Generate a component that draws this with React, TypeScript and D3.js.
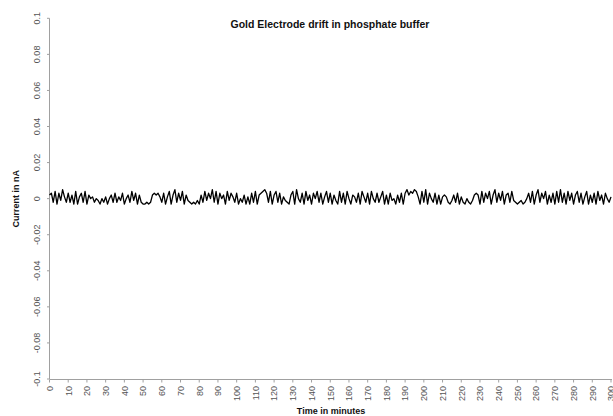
import { useEffect, useRef } from 'react'
import * as d3 from 'd3'

// current readings, one per minute, in thousandths of nA
const currentMilli = [
  2, 3, -2, 4, -3, 3, -1, 5, 1, -2,
  3, -2, 2, -3, 4, -3, 1, 3, -2, 4,
  -3, 2, 0, 1, -2, 0, -1, -3, 0, -2,
  1, -3, 0, 2, -2, 3, -2, 1, -1, 3,
  -3, 0, 2, -2, 4, -1, 3, -3, 2, -2,
  -3, -3, -2, -3, -2, 2, 3, 2, 3, 1,
  -2, 3, -3, 1, 4, -3, 2, 5, -2, 3,
  -1, 4, -3, 2, -1, -2, -3, -2, -3, -1,
  -3, 2, -2, 4, -1, 3, 0, 5, -2, 4,
  -3, 3, 0, 2, -3, 4, -1, 3, 1, -2,
  3, -3, 0, -2, 2, -3, 1, -3, 3, -2,
  4, -3, 2, 3, 4, 5, 3, -2, 4, -3,
  2, 4, -2, 3, -3, 1, -1, -2, -3, 2,
  4, -3, 5, 0, -2, 3, -3, 4, -1, 2,
  -3, 3, 0, 4, -2, 3, -3, 1, 4, -2,
  3, -3, 2, -1, -3, 4, -2, 3, -3, 4,
  0, -3, 2, 1, -2, 3, -3, 4, 1, -2,
  3, -3, 4, 0, -2, 3, -2, 1, 4, -3,
  2, -3, 3, -1, 0, -3, 2, -2, 3, -3,
  3, 5, 2, 4, 3, 5, 4, 1, -3, 4,
  -2, 5, -3, 3, 0, -2, 3, -3, 2, -3,
  1, 2, 1, -2, -3, -1, 2, -2, 3, -3,
  1, -2, -3, 0, -2, -3, -1, 2, 3, 2,
  -3, 4, -2, 3, 0, 4, -3, 2, 5, -2,
  3, -1, 4, -3, 2, 3, -2, 4, -1, -2,
  -3, -2, -1, -3, -2, 0, 3, -2, 4, -3,
  2, 5, -2, 3, 0, 4, -3, 2, -2, 3,
  -3, 4, -2, 5, -2, 3, -3, 4, -1, 3,
  -3, 2, 4, -2, 3, -3, 1, 4, -3, 2,
  -2, 3, -3, 4, -1, 2, -3, 3, 0, -2,
  1,
]

const xTicks = d3.range(0, 301, 10)
const yTicks = [-0.1, -0.08, -0.06, -0.04, -0.02, 0, 0.02, 0.04, 0.06, 0.08, 0.1]
const yTickLabels = ['-0.1', '-0.08', '-0.06', '-0.04', '-0.02', '0', '0.02', '0.04', '0.06', '0.08', '0.1']

const W = 613
const H = 416

export default function App() {
  const svgRef = useRef<SVGSVGElement>(null)

  useEffect(() => {
    if (!svgRef.current) return
    const svg = d3.select(svgRef.current)
    svg.selectAll('*').remove()

    const font = 'Liberation Sans, Arial, sans-serif'
    const x = d3.scaleLinear().domain([0, 300]).range([49.5, 611])
    const y = d3.scaleLinear().domain([-0.1, 0.1]).range([379, 18.3])

    svg.append('rect').attr('width', W).attr('height', H).attr('fill', '#fff')

    // y axis
    svg.append('line')
      .attr('x1', 49.5).attr('x2', 49.5)
      .attr('y1', y(0.1)).attr('y2', y(-0.1))
      .attr('stroke', '#a0a0a0').attr('stroke-width', 1)
    svg.selectAll('.ytick')
      .data(yTicks)
      .enter().append('line')
      .attr('x1', 47).attr('x2', 49.5)
      .attr('y1', d => y(d)).attr('y2', d => y(d))
      .attr('stroke', '#a0a0a0')
    svg.selectAll('.ylab')
      .data(yTicks)
      .enter().append('text')
      .attr('transform', d => `translate(39.5,${y(d)}) rotate(-90)`)
      .attr('text-anchor', 'middle')
      .attr('font-family', font)
      .attr('font-size', 9)
      .attr('fill', '#555')
      .text((d, i) => yTickLabels[i])

    // x axis
    svg.append('line')
      .attr('x1', x(0)).attr('x2', 612)
      .attr('y1', 379.5).attr('y2', 379.5)
      .attr('stroke', '#a0a0a0')
    svg.selectAll('.xtick')
      .data(xTicks)
      .enter().append('line')
      .attr('x1', d => x(d)).attr('x2', d => x(d))
      .attr('y1', 379.5).attr('y2', 382.5)
      .attr('stroke', '#a0a0a0')
    svg.selectAll('.xlab')
      .data(xTicks)
      .enter().append('text')
      .attr('transform', d => `translate(${x(d) + 3.3},386) rotate(-90)`)
      .attr('text-anchor', 'end')
      .attr('font-family', font)
      .attr('font-size', 9)
      .attr('fill', '#555')
      .text(d => String(d))

    // the drift trace
    const line = d3.line<number>()
      .x((d, i) => x(i))
      .y(d => y(d / 1000))
    svg.append('path')
      .datum(currentMilli)
      .attr('d', line)
      .attr('fill', 'none')
      .attr('stroke', '#000')
      .attr('stroke-width', 1.3)
      .attr('stroke-linejoin', 'round')

    // titles
    svg.append('text')
      .attr('x', 330).attr('y', 28)
      .attr('text-anchor', 'middle')
      .attr('font-family', font)
      .attr('font-weight', 'bold')
      .attr('font-size', 10.5)
      .attr('fill', '#111')
      .text('Gold Electrode drift in phosphate buffer')
    svg.append('text')
      .attr('transform', `translate(18.5,${y(0)}) rotate(-90)`)
      .attr('text-anchor', 'middle')
      .attr('font-family', font)
      .attr('font-weight', 'bold')
      .attr('font-size', 9)
      .attr('fill', '#111')
      .text('Current in nA')
    svg.append('text')
      .attr('x', 331).attr('y', 414)
      .attr('text-anchor', 'middle')
      .attr('font-family', font)
      .attr('font-weight', 'bold')
      .attr('font-size', 9)
      .attr('fill', '#111')
      .text('Time in minutes')
  }, [])

  return (
    <div style={{ position: 'absolute', left: 0, top: 0 }}>
      <svg ref={svgRef} width={W} height={H} style={{ display: 'block' }} />
    </div>
  )
}
